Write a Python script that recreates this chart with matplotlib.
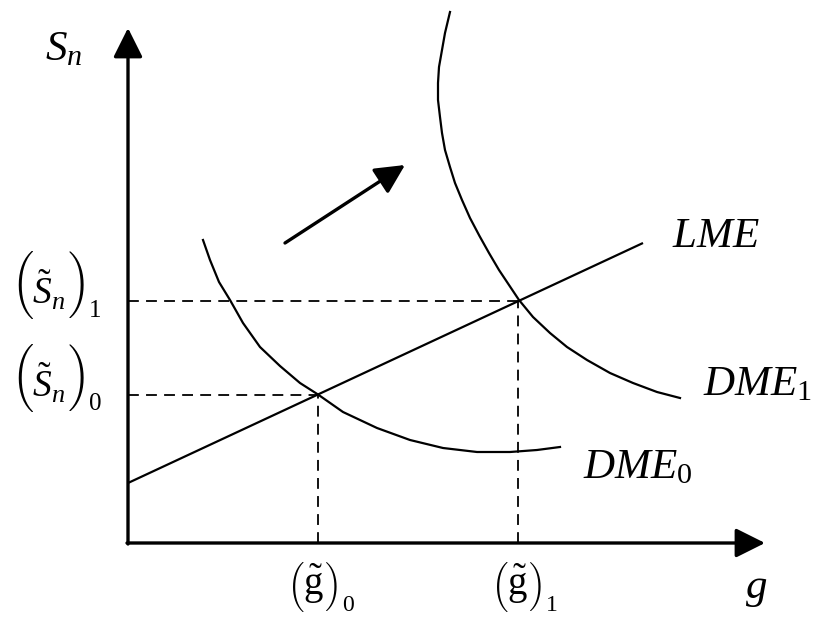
import os
import matplotlib
matplotlib.use("Agg")
import matplotlib.pyplot as plt
from matplotlib.font_manager import FontProperties

# Curves (g on x, S_n on y)
lme_g = [0.0, 5.15]
lme_s = [0.60, 3.00]

dme0_g = [0.75, 0.82, 0.91, 1.02, 1.15, 1.32, 1.52, 1.72, 1.90, 2.15, 2.49,
          2.82, 3.15, 3.49, 3.82, 4.09, 4.32]
dme0_s = [3.03, 2.83, 2.61, 2.43, 2.20, 1.96, 1.77, 1.60, 1.485, 1.31, 1.15,
          1.03, 0.95, 0.91, 0.91, 0.93, 0.96]

dme1_g = [3.22, 3.17, 3.14, 3.11, 3.10, 3.10, 3.12, 3.14, 3.17, 3.22, 3.27,
          3.34, 3.42, 3.515, 3.61, 3.71, 3.81, 3.91, 4.05, 4.22, 4.39, 4.59,
          4.82, 5.05, 5.29, 5.52]
dme1_s = [5.31, 5.10, 4.93, 4.76, 4.60, 4.43, 4.26, 4.10, 3.93, 3.76, 3.60,
          3.43, 3.25, 3.07, 2.90, 2.73, 2.58, 2.43, 2.26, 2.10, 1.96, 1.83,
          1.70, 1.60, 1.51, 1.45]

eq_g = [1.90, 3.90]
eq_s = [1.485, 2.42]

shift_from = (1.57, 3.00)
shift_to = (2.77, 3.78)

plt.rcParams['mathtext.fontset'] = 'custom'
plt.rcParams['mathtext.rm'] = 'Liberation Serif'
plt.rcParams['mathtext.it'] = 'Liberation Serif:italic'
plt.rcParams['font.family'] = 'Liberation Serif'

# big TeX parentheses from the cmex10 font shipped with matplotlib
CMEX = FontProperties(fname=os.path.join(matplotlib.get_data_path(),
                                         'fonts', 'ttf', 'cmex10.ttf'))
PX = 0.72  # points per pixel at 100 dpi


def bracket_label(ax, x, y, body, sub, fs, pfs, top, dx_body, dx_close,
                  dx_sub, dy_sub, sfs):
    """( body )_sub, offsets given in pixels from the left/baseline anchor"""
    def put(s, dx, dy, **kw):
        ax.annotate(s, xy=(x, y), xycoords='data',
                    xytext=(dx * PX, dy * PX), textcoords='offset points',
                    ha='left', va='baseline', **kw)
    put('\xb3', 0, top, fontproperties=CMEX, fontsize=pfs)
    put(body, dx_body, 0, fontsize=fs)
    put('\xb4', dx_close, top, fontproperties=CMEX, fontsize=pfs)
    put(sub, dx_sub, dy_sub, fontsize=sfs)


def main():
    fig = plt.figure(figsize=(8.13, 6.19), dpi=100)
    ax = fig.add_axes([0, 0, 1, 1])
    ax.set_xlim(-1.28, 6.85)
    ax.set_ylim(-0.76, 5.43)
    ax.axis("off")

    # axes with arrow heads
    arrow = dict(arrowstyle='-|>,head_length=0.9,head_width=0.45', lw=2.4,
                 color='k', mutation_scale=20, shrinkA=0, shrinkB=0)
    ax.annotate('', xy=(0, 5.15), xytext=(0, -0.01), arrowprops=arrow)
    ax.annotate('', xy=(6.37, 0), xytext=(-0.01, 0), arrowprops=arrow)

    # dashed guides
    for g, s in zip(eq_g, eq_s):
        ax.plot([0, g], [s, s], color='k', lw=1.3, ls=(0, (6, 4)))
        ax.plot([g, g], [0, s], color='k', lw=1.3, ls=(0, (6, 4)))

    ax.plot(lme_g, lme_s, color='k', lw=1.6, solid_capstyle='butt')
    ax.plot(dme0_g, dme0_s, color='k', lw=1.6, solid_joinstyle='round')
    ax.plot(dme1_g, dme1_s, color='k', lw=1.6, solid_joinstyle='round')

    ax.annotate('', xy=shift_to, xytext=shift_from,
                arrowprops=dict(arrowstyle='-|>,head_length=0.9,head_width=0.45',
                                lw=2.4, color='k', mutation_scale=20,
                                shrinkA=0, shrinkB=0))

    fs = 31
    ax.text(5.44, 2.96, r'$LME$', fontsize=fs, va='baseline', ha='left')
    ax.text(5.75, 1.48, r'$DME_1$', fontsize=fs, va='baseline', ha='left')
    ax.text(4.55, 0.65, r'$DME_0$', fontsize=fs, va='baseline', ha='left')
    ax.text(6.17, -0.55, r'$g$', fontsize=fs, va='baseline', ha='left')
    ax.text(-0.83, 4.83, r'$S_n$', fontsize=fs, va='baseline', ha='left')

    bracket_label(ax, -1.17, 2.38, r'$\tilde{S}_n$', '1', 27, 27, 52,
                  21, 57, 78, -12, 18)
    bracket_label(ax, -1.17, 1.45, r'$\tilde{S}_n$', '0', 27, 27, 52,
                  21, 57, 78, -12, 18)
    bracket_label(ax, eq_g[0] - 0.30, -0.52, r'$\tilde{\mathrm{g}}$', '0',
                  28, 20, 32, 15, 37, 54, -16, 17)
    bracket_label(ax, eq_g[1] - 0.26, -0.52, r'$\tilde{\mathrm{g}}$', '1',
                  28, 20, 32, 15, 37, 54, -16, 17)

    fig.savefig('out.png', dpi=100)


if __name__ == '__main__':
    main()
